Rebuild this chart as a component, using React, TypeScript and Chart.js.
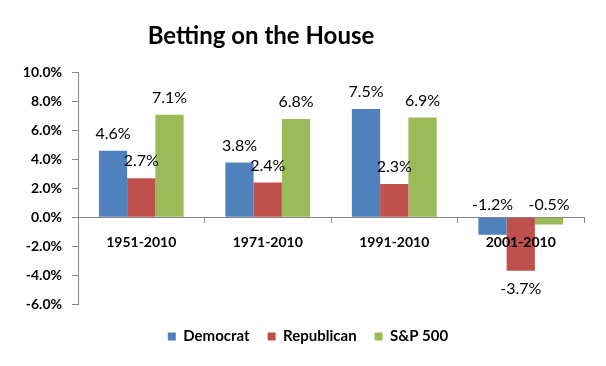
import React, { useEffect, useRef } from "react";
import { Chart, registerables } from "chart.js";

Chart.register(...registerables);

const categories = ["1951-2010", "1971-2010", "1991-2010", "2001-2010"];
const democrat = [4.6, 3.8, 7.5, -1.2];
const republican = [2.7, 2.4, 2.3, -3.7];
const sp500 = [7.1, 6.8, 6.9, -0.5];
const seriesNames = ["Democrat", "Republican", "S&P 500"];
const yMin = -6;
const yMax = 10;
const yStep = 2;

const FONT = "Lato, 'Open Sans', 'Noto Sans', sans-serif";
const LEGEND_SHIFT = 16;
const TITLE_SHIFT = -31;

const labelPlugin = {
  id: "valueLabels",
  afterLayout(chart: any) {
    const l = chart.legend;
    if (l) {
      l.left += LEGEND_SHIFT;
      l.right += LEGEND_SHIFT;
    }
    const t = chart.titleBlock;
    if (t) {
      t.left += TITLE_SHIFT;
      t.right += TITLE_SHIFT;
    }
  },
  afterDatasetsDraw(chart: any) {
    const ctx = chart.ctx;
    ctx.save();
    ctx.font = `16px ${FONT}`;
    ctx.fillStyle = "#000";
    ctx.textAlign = "center";
    ctx.textBaseline = "middle";
    chart.data.datasets.forEach((ds: any, di: number) => {
      const meta = chart.getDatasetMeta(di);
      meta.data.forEach((el: any, i: number) => {
        const v = ds.data[i];
        const { x, y, base } = el.getProps(["x", "y", "base"], true);
        let ty: number;
        if (v >= 0) {
          ty = y - 17;
        } else if (y - base < 30) {
          ty = base - 13;
        } else {
          ty = y + 18;
        }
        ctx.fillText(v.toFixed(1) + "%", x, ty);
      });
    });
    ctx.restore();
  },
};

export default function App() {
  const ref = useRef<HTMLCanvasElement | null>(null);
  useEffect(() => {
    if (!ref.current) return;
    const chart = new Chart(ref.current, {
      type: "bar",
      data: {
        labels: categories,
        datasets: [
          { label: seriesNames[0], data: democrat, backgroundColor: "#4F81BD" },
          { label: seriesNames[1], data: republican, backgroundColor: "#C0504D" },
          { label: seriesNames[2], data: sp500, backgroundColor: "#9BBB59" },
        ],
      },
      options: {
        animation: false,
        responsive: false,
        maintainAspectRatio: false,
        datasets: {
          bar: { categoryPercentage: 0.67, barPercentage: 1.0 },
        },
        layout: { padding: { left: 0, right: 22, top: 0, bottom: 12 } },
        plugins: {
          title: {
            display: true,
            text: "Betting on the House",
            color: "#000",
            font: { family: FONT, size: 24, weight: "bold" },
            padding: { top: 22, bottom: 22 },
          },
          legend: {
            position: "bottom",
            labels: {
              boxWidth: 8,
              boxHeight: 8,
              padding: 18,
              color: "#000",
              font: { family: FONT, size: 15, weight: "bold" },
            },
          },
          tooltip: { enabled: false },
        },
        scales: {
          x: {
            position: { y: 0 } as any,
            grid: {
              offset: true,
              drawOnChartArea: false,
              drawTicks: true,
              tickLength: 5,
              color: "#868686",
            },
            border: { display: true, color: "#868686" },
            ticks: {
              z: 1,
              color: "#000",
              padding: 12,
              font: { family: FONT, size: 14, weight: "bold" },
            },
          },
          x2: {
            type: "category",
            labels: categories,
            position: "bottom",
            grid: { display: false },
            border: { display: false },
            ticks: { display: false },
            afterFit(scale: any) {
              scale.height = 7;
            },
          },
          y: {
            min: yMin,
            max: yMax,
            ticks: {
              stepSize: yStep,
              color: "#000",
              padding: 10,
              font: { family: FONT, size: 14, weight: "bold" },
              callback: (v: any) => Number(v).toFixed(1) + "%",
            },
            grid: {
              drawOnChartArea: false,
              drawTicks: true,
              tickLength: 6,
              color: "#868686",
            },
            border: { display: true, color: "#868686" },
            afterFit(scale: any) {
              scale.width = 78;
            },
          },
        },
      },
      plugins: [labelPlugin],
    } as any);
    return () => chart.destroy();
  }, []);
  return (
    <div style={{ position: "fixed", left: 0, top: 0, width: 606, height: 366, background: "#fff" }}>
      <canvas ref={ref} width={606} height={366} style={{ width: 606, height: 366 }} />
    </div>
  );
}
